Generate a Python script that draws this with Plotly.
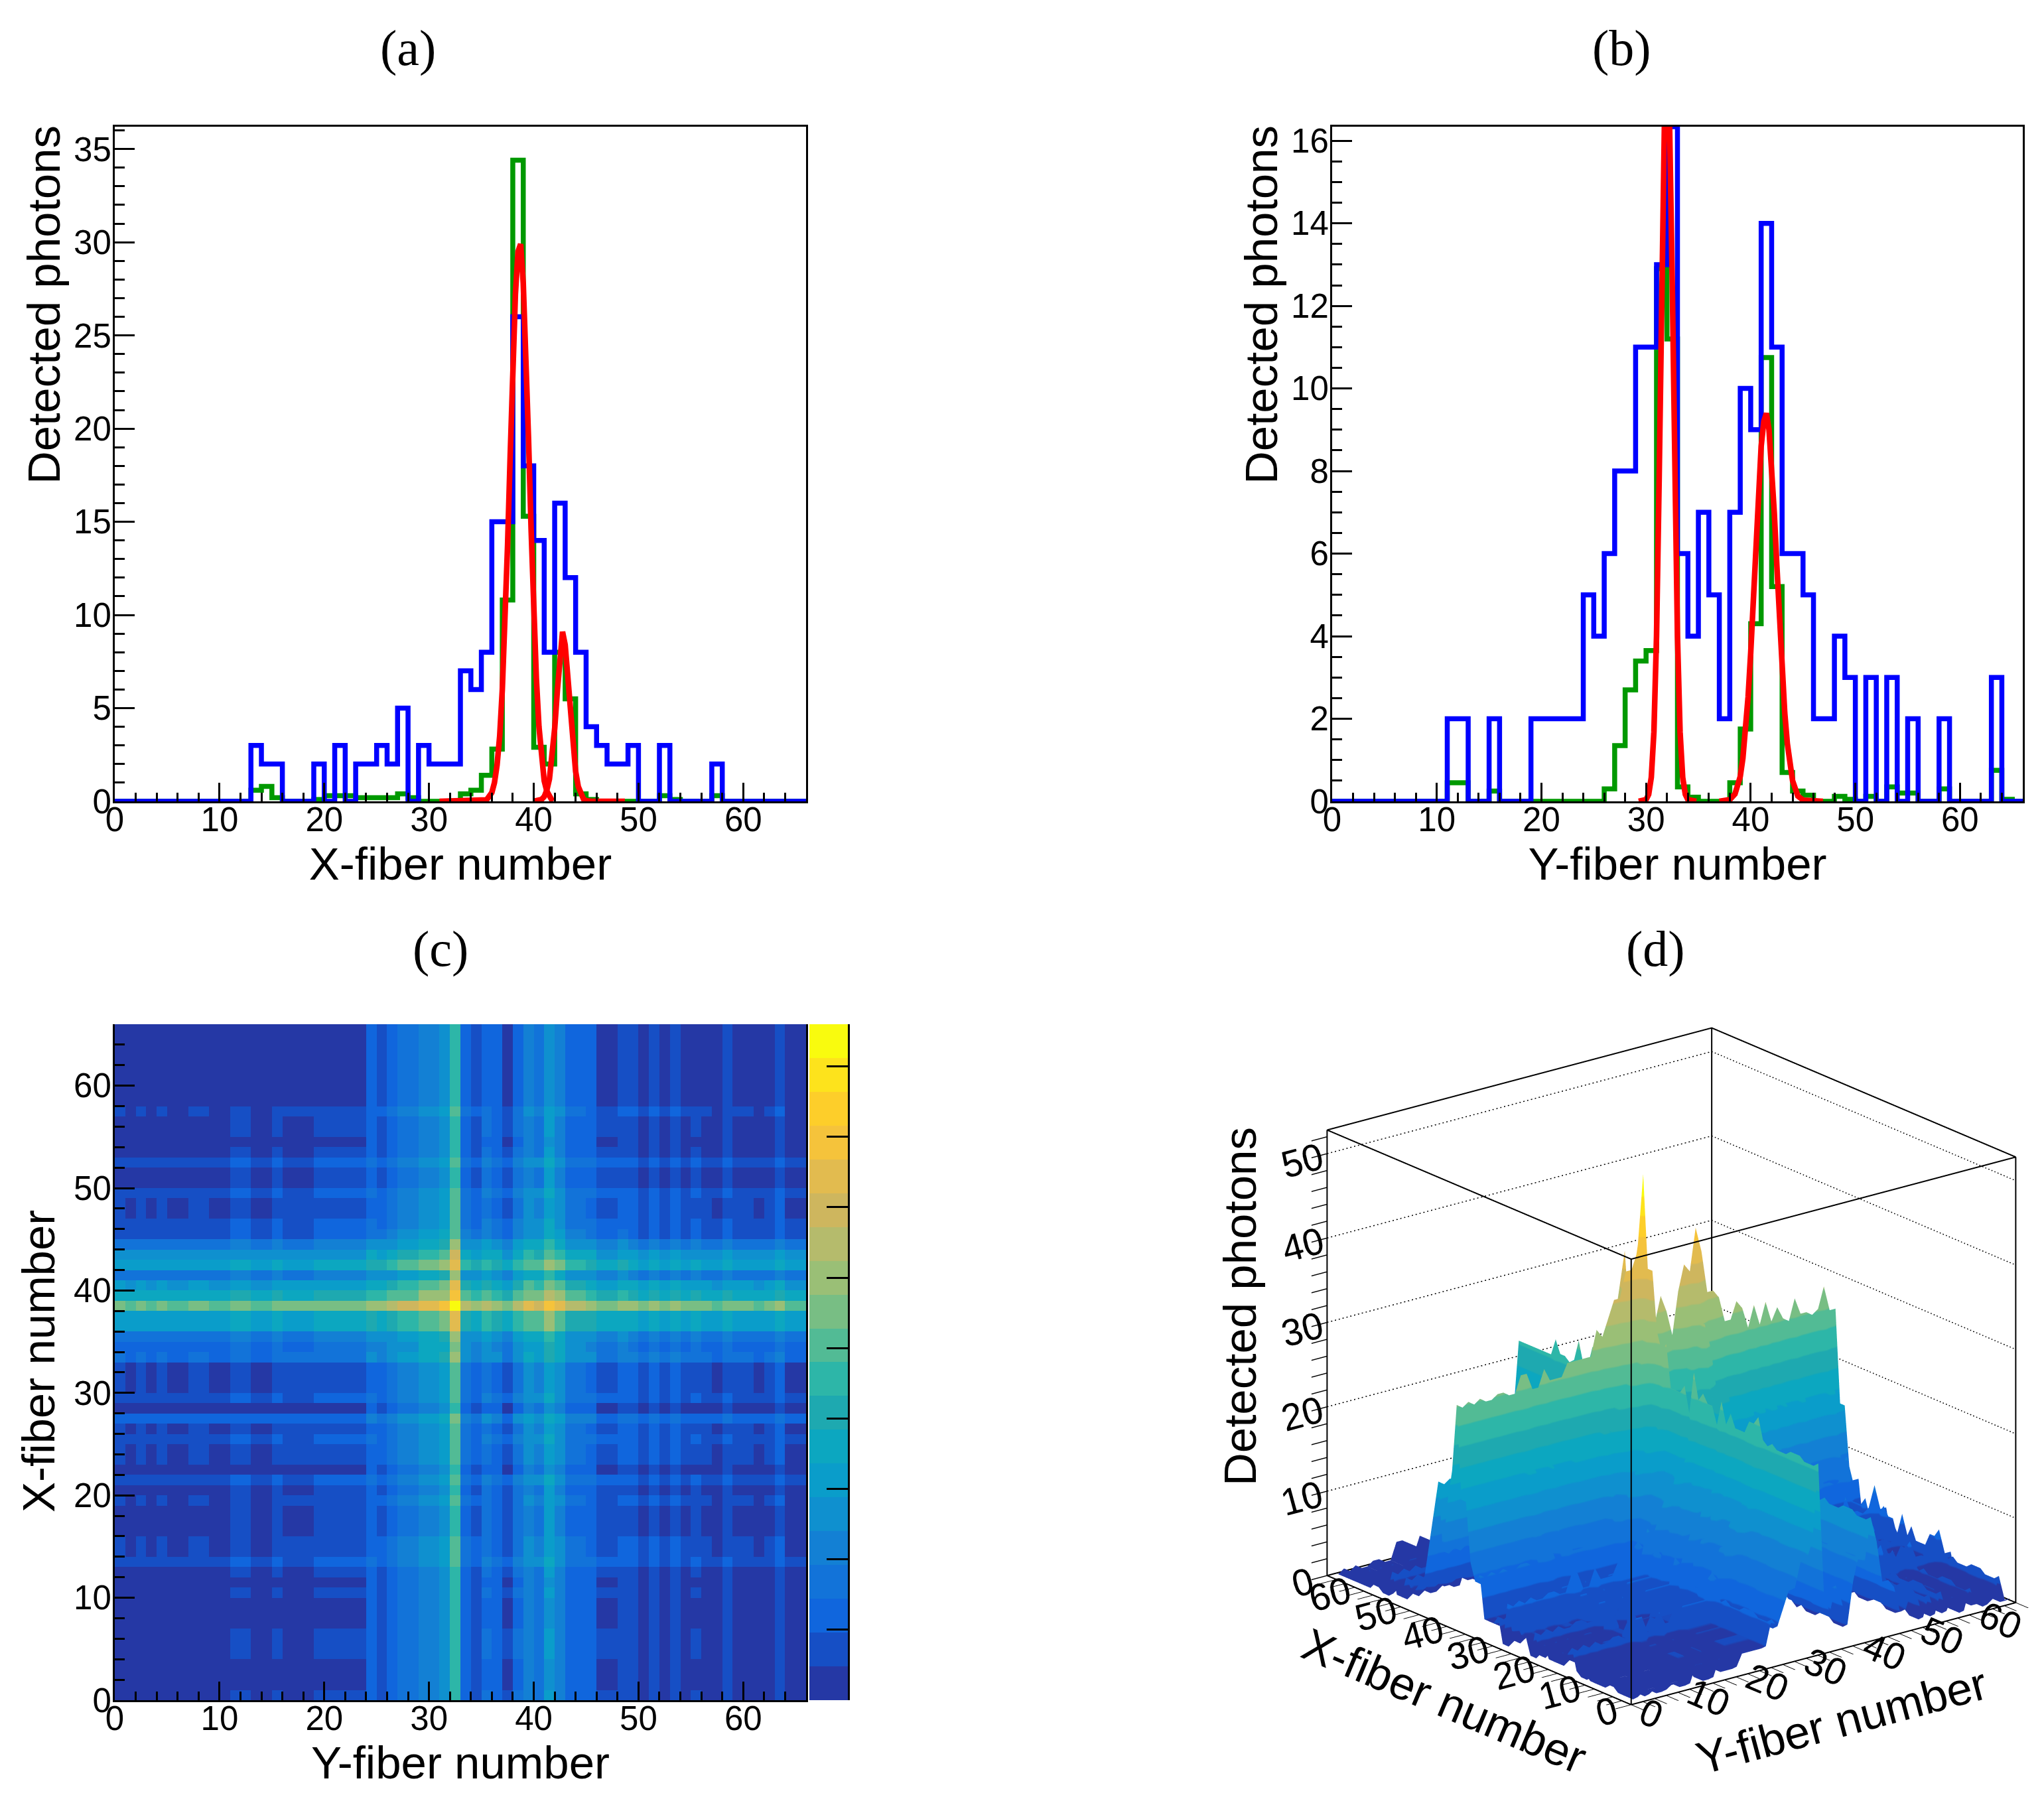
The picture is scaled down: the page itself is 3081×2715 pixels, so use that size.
import numpy as np
import plotly.graph_objects as go

W = 3081
H = 2715
SANS = "Liberation Sans"
SERIF = "Liberation Serif"

# (a) X-fiber histograms, one value per fiber bin
x_blue = [0,0,0,0,0,0,0,0,0,0,0,0,0,3,2,2,0,0,0,2,0,3,0,2,2,3,2,5,0,3,2,2,2,
          7,6,8,15,15,26,18,14,8,16,12,8,4,3,2,2,3,0,0,3,0,0,0,0,2,0,0,0,0,0,0,0,0]
x_green = [0,0,0,0,0,0,0,0,0,0,0,0,0,0.6,0.8,0.2,0,0,0,0.1,0.3,0.3,0.3,0.2,0.2,0.2,0.2,0.4,0.2,0,0,0,0,
           0.4,0.6,1.4,2.8,10.8,34.4,15.3,2.9,2.0,8.0,5.5,0.4,0.1,0,0,0,0,0,0,0.3,0.1,0,0,0,0.3,0,0,0,0,0,0,0,0]
x_red1_pos = [31,35.5,36,36.25,36.5,36.75,37,37.25,37.5,37.75,38,38.25,38.5,38.75,39,39.25,39.5,39.75,40,40.25,40.5,40.75,41,41.25,41.5,41.8]
x_red1_val = [0,0.08,0.47,1.0,1.95,3.5,6,9.4,13.7,18.5,23.3,27.2,29.5,29.9,27.8,24.2,19.5,14.6,10.2,6.6,4,2.2,1.1,0.55,0.25,0]
x_red2_pos = [40,40.5,40.75,41,41.25,41.5,41.75,42,42.25,42.5,42.75,43,43.25,43.5,43.75,44,44.25,44.5,44.75,45,45.5,48.7]
x_red2_val = [0,0.03,0.1,0.25,0.6,1.2,2.3,3.9,5.9,8,9.1,8.4,6.7,4.7,2.9,1.6,0.8,0.35,0.12,0.04,0,0]

y_blue = [0,0,0,0,0,0,0,0,0,0,0,2,2,0,0,2,0,0,0,2,2,2,2,2,5,4,6,8,8,11,11,13,22,
          6,4,7,5,2,7,10,9,14,11,6,6,5,2,2,4,3,0,3,0,3,0,2,0,0,2,0,0,0,0,3,0,0]
y_green = [0,0,0,0,0,0,0,0,0,0,0,0.45,0.45,0,0,0.25,0,0,0,0,0,0,0,0,0,0,0.3,1.35,2.7,3.4,3.65,12.9,11.2,
           0.35,0.1,0,0,0,0.45,1.75,4.3,10.75,5.2,0.7,0.25,0.15,0,0,0.12,0.05,0,0.12,0,0.35,0.2,0.2,0,0,0.3,0,0,0,0,0.75,0.05,0]
y_red1_pos = [29.3,30,30.25,30.5,30.75,31,31.25,31.5,31.75,32,32.25,32.5,32.75,33,33.25,33.5,33.75,34,34.8]
y_red1_val = [0,0.04,0.17,0.58,1.68,4,7.8,12.6,16.8,18.5,16.8,12.6,7.8,4,1.68,0.58,0.17,0.04,0]
y_red2_pos = [37,38,38.5,39,39.25,39.5,39.75,40,40.25,40.5,40.75,41,41.25,41.5,41.75,42,42.25,42.5,42.75,43,43.25,43.5,43.75,44,44.5,45,46.9]
y_red2_val = [0,0.04,0.18,0.6,1.04,1.67,2.53,3.6,4.9,6.2,7.5,8.6,9.2,9.4,9,8.2,7,5.7,4.35,3.2,2.15,1.4,0.85,0.5,0.13,0.03,0]

# small fractions that only show up in the map bands of (c) and (d)
x_extra = [0.5,0,0,0,0.5,0.5,0.5,0,0,0,0.5,0,0.5,0,0,0,0.5,0.5,0.5,0,0.5,0,0,0,0,0,0,0,0,0,0,0,0,
           0,0,0,0,0,0,0,0,0,0,0,0,0,0,0,0,0,0.5,0.5,0,0.5,0,0.5,0.5,0,0,0,0,0,0,0,0,0]
y_extra = [0.5,0,0.5,0,0.5,0,0,0.5,0.5,0,0,0,0,0,0,0,0.5,0.5,0.5,0,0,0,0,0,0,0,0,0,0,0,0,0,0,
           0,0,0,0,0,0,0,0,0,0,0,0,0,0,0,0,0,0.5,0,0.5,0,0.5,0,0.5,0,0.5,0.5,0.5,0,0.5,0,0,0]

band_colors = ["#2538a5","#164fc5","#1066dd","#1273d9","#1380d4","#0f90cf","#0a9dca","#0ca7c0","#1ea9b0","#2db6a8",
               "#52bb95","#78be84","#9abf76","#b5bb6c","#ceb65e","#e2bb4f","#f5c33b","#fdce2a","#fde31c","#f9fb0e"]

x_range_max = 66
a_y_max = 36.2
b_y_max = 16.34
map_z_max = 48
d_z_max = 52.8
d_grid_levels = [10, 20, 30, 40, 50]

GREEN = "#009900"
BLUE = "#0000ff"
RED = "#ff0000"

colorscale = []
for i, c in enumerate(band_colors):
    colorscale.append([i / 20, c])
    colorscale.append([(i + 1) / 20, c])

bin_edges = list(range(x_range_max + 1))
bin_centers = [b + 0.5 for b in range(x_range_max)]
map_z = [[x_blue[i] + x_extra[i] + y_blue[j] + y_extra[j] for j in range(x_range_max)] for i in range(x_range_max)]


def dom(a, b, size):
    return [a / size, b / size]


def ydom(top, bottom):
    return [1 - bottom / H, 1 - top / H]


def axis_style(dtick, minor, rng, domain, title=None, standoff=0, mirror=True, label_gap=10, major=30, small=15):
    d = dict(
        domain=domain, range=rng, dtick=dtick, tick0=0, ticks="inside", ticklen=major, tickwidth=3, tickcolor="black",
        minor=dict(dtick=minor, tick0=0, ticks="inside", ticklen=small, tickwidth=3, tickcolor="black"),
        showgrid=False, zeroline=False, showline=True, mirror=mirror, linecolor="black", linewidth=3,
        tickfont=dict(family=SANS, size=51, color="black"), ticklabelstandoff=label_gap, automargin=False,
    )
    if title:
        d["title"] = dict(text=title, font=dict(family=SANS, size=69, color="black"), standoff=standoff)
    return d


def steps(values):
    return values + [values[-1]]


def add_line(x, y, color, xa, ya, shape="linear", width=7.5):
    fig.add_trace(go.Scatter(x=x, y=y, mode="lines", line=dict(color=color, width=width, shape=shape),
                             xaxis=xa, yaxis=ya, showlegend=False, cliponaxis=False))


fig = go.Figure()

# panel (a)
add_line(bin_edges, steps(x_green), GREEN, "x", "y", "hv")
add_line(bin_edges, steps(x_blue), BLUE, "x", "y", "hv")
add_line(x_red1_pos, x_red1_val, RED, "x", "y", width=8.5)
add_line(x_red2_pos, x_red2_val, RED, "x", "y", width=8.5)

# panel (b), the central peak runs off the top of the frame
add_line(bin_edges, steps(list(np.minimum(y_green, b_y_max))), GREEN, "x2", "y2", "hv")
add_line(bin_edges, steps(list(np.minimum(y_blue, b_y_max))), BLUE, "x2", "y2", "hv")
add_line(y_red1_pos, list(np.minimum(y_red1_val, b_y_max)), RED, "x2", "y2", width=8.5)
add_line(y_red2_pos, y_red2_val, RED, "x2", "y2", width=8.5)

# panel (c)
fig.add_trace(go.Heatmap(
    x=bin_centers, y=bin_centers, z=map_z, xaxis="x3", yaxis="y3", zmin=0, zmax=map_z_max,
    colorscale=colorscale, hoverinfo="skip",
    colorbar=dict(
        x=1220 / W, xanchor="left", xpad=0, thickness=58, thicknessmode="pixels",
        y=1 - 2563 / H, yanchor="bottom", ypad=0, len=(2563 - 1544) / H, lenmode="fraction",
        outlinewidth=0, ticks="inside", ticklen=32, tickwidth=3, tickcolor="black",
        tick0=0, dtick=5, showticklabels=False,
    ),
))

# panel (d)
fig.add_trace(go.Surface(
    x=bin_centers, y=bin_centers, z=map_z, cmin=0, cmax=map_z_max, colorscale=colorscale, showscale=False,
    lighting=dict(ambient=1, diffuse=0, specular=0, fresnel=0), hoverinfo="skip", scene="scene",
))

# box edges and the dotted level lines on the two back walls
m = x_range_max
z1 = d_z_max
fig.add_trace(go.Scatter3d(
    x=[0, m, m, 0, 0, None, 0, m, m, 0, 0, None, 0, 0, None, m, m, None, m, m, None, 0, 0],
    y=[0, 0, m, m, 0, None, 0, 0, m, m, 0, None, 0, 0, None, 0, 0, None, m, m, None, m, m],
    z=[0, 0, 0, 0, 0, None, z1, z1, z1, z1, z1, None, 0, z1, None, 0, z1, None, 0, z1, None, 0, z1],
    mode="lines", line=dict(color="black", width=4), hoverinfo="skip", showlegend=False, scene="scene",
))
for level in d_grid_levels:
    fig.add_trace(go.Scatter3d(
        x=[0, m, m], y=[m, m, 0], z=[level, level, level], mode="lines",
        line=dict(color="black", width=3, dash="dot"), hoverinfo="skip", showlegend=False, scene="scene",
    ))


def scene_axis(rng, step, labelled):
    vals = list(range(0, int(rng[1]) + 1, step))
    return dict(
        range=rng, tickmode="array", tickvals=vals, ticktext=[str(v) if v % labelled == 0 else " " for v in vals],
        title=dict(text=""), showbackground=False, showspikes=False, showgrid=False, zeroline=False,
        showline=False, ticks="outside", ticklen=30, tickwidth=3, tickcolor="black",
        tickfont=dict(family=SANS, size=26, color="black"), autorange=False,
    )


look_x, look_y, look_z = -0.0697, 0.055, -0.0835
box_zoom = 1.2164

fig.update_layout(
    width=W, height=H, margin=dict(l=0, r=0, t=0, b=0), paper_bgcolor="white", plot_bgcolor="white", showlegend=False,
    xaxis=axis_style(10, 2, [0, x_range_max], dom(173, 1215, W), "X-fiber number", 0, label_gap=-19, major=28, small=13),
    yaxis=axis_style(5, 1, [0, a_y_max], ydom(191, 1208), label_gap=-8),
    xaxis2=axis_style(10, 2, [0, x_range_max], dom(2008, 3049, W), "Y-fiber number", 0, label_gap=-19, major=28, small=13),
    yaxis2=axis_style(2, 0.5, [0, b_y_max], ydom(191, 1208), label_gap=-8),
    xaxis3=axis_style(10, 2, [0, x_range_max], dom(173, 1215, W), "Y-fiber number", 0, mirror=False, label_gap=-19, major=28, small=13),
    yaxis3=axis_style(10, 2, [0, x_range_max], ydom(1544, 2563), label_gap=-8),
    scene=dict(
        domain=dict(x=dom(1850, 3081, W), y=ydom(1500, 2715)),
        xaxis=scene_axis([0, x_range_max], 2, 10),
        yaxis=scene_axis([0, x_range_max], 2, 10),
        zaxis=scene_axis([0, d_z_max], 2, 10),
        aspectmode="manual", aspectratio=dict(x=box_zoom, y=box_zoom, z=0.965 * box_zoom),
        camera=dict(
            projection=dict(type="orthographic"),
            eye=dict(x=-0.955 + look_x, y=-1.208 + look_y, z=0.549 + look_z),
            up=dict(x=0, y=0, z=1),
            center=dict(x=look_x, y=look_y, z=look_z),
        ),
    ),
)
fig.layout.xaxis.anchor = "y"
fig.layout.xaxis2.anchor = "y2"
fig.layout.yaxis2.anchor = "x2"
fig.layout.xaxis3.anchor = "y3"
fig.layout.yaxis3.anchor = "x3"

# right edge of the colour bar
fig.add_shape(type="line", xref="paper", yref="paper", x0=1279.5 / W, x1=1279.5 / W, y0=1 - 2563 / H, y1=1 - 1544 / H,
              line=dict(color="black", width=3))


def label(text, x, y, size=69, family=SANS, angle=0):
    fig.add_annotation(text=text, x=x / W, y=1 - y / H, xref="paper", yref="paper", showarrow=False, textangle=angle,
                       xanchor="center", yanchor="middle", font=dict(family=family, size=size, color="black"))


label("(a)", 615, 73, 76, SERIF)
label("(b)", 2444, 73, 76, SERIF)
label("(c)", 664, 1430, 76, SERIF)
label("(d)", 2495, 1430, 76, SERIF)
label("Detected photons", 66, 460, angle=-90)
label("Detected photons", 1901, 460, angle=-90)
label("X-fiber number", 58, 2052, angle=-90)
label("Detected photons", 1869, 1970, angle=-90)
label("X-fiber number", 2177, 2564, angle=23)
label("Y-fiber number", 2776, 2594, angle=-15)

fig.write_html("out.html", config=dict(displayModeBar=False), post_script="document.body.style.margin='0';")
